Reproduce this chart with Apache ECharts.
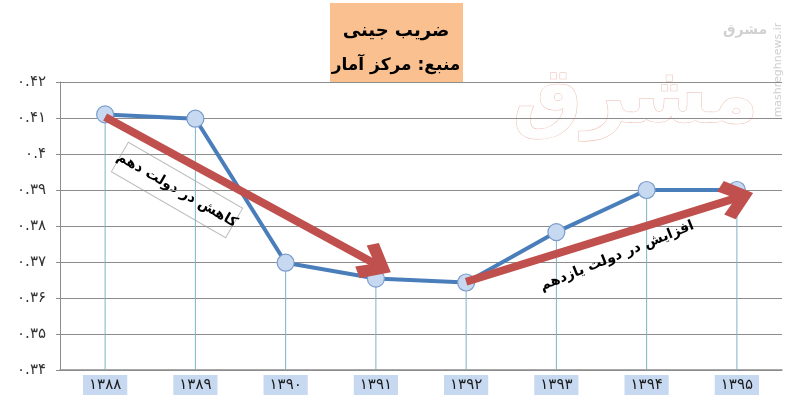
<!DOCTYPE html>
<html>
<head>
<meta charset="utf-8">
<script src="https://cdn.jsdelivr.net/npm/echarts@6/dist/echarts.min.js"></script>
<style>html,body{margin:0;padding:0;background:#fff}#c{width:800px;height:400px}</style>
</head>
<body>
<div id="c"></div>
<script>
const years = ['۱۳۸۸', '۱۳۸۹', '۱۳۹۰', '۱۳۹۱', '۱۳۹۲', '۱۳۹۳', '۱۳۹۴', '۱۳۹۵'];
const gini = [0.411, 0.4098, 0.3698, 0.3654, 0.3643, 0.3783, 0.39, 0.39];
const yMin = 0.34, yMax = 0.42, yStep = 0.01;
const titleLines = ['ضریب جینی', 'منبع: مرکز آمار'];
const downLabel = 'کاهش در دولت دهم';
const upLabel = 'افزایش در دولت یازدهم';
// arrow ends in data space (category index, value); end = centre of arrow head
const downArrow = [[0.03, 0.4103], [2.765, 0.3694]];
const upArrow = [[4.02, 0.3645], [6.76, 0.3878]];

const fa = s => String(s).replace(/[0-9]/g, d => '۰۱۲۳۴۵۶۷۸۹'[d]);
const FONT = 'DejaVu Sans';
const chevron = 'path://M50,0 L100,62 L80,86 L50,46 L20,86 L0,62 Z';

const chart = echarts.init(document.getElementById('c'));
chart.setOption({
  animation: false,
  backgroundColor: '#ffffff',
  grid: { left: 60, right: 18, top: 82, bottom: 30 },
  xAxis: {
    type: 'category',
    data: years,
    boundaryGap: true,
    axisLine: { lineStyle: { color: '#8c8c8c', width: 1.5 } },
    axisTick: { show: false },
    axisLabel: {
      fontFamily: FONT, fontSize: 15, color: '#1a1a1a',
      backgroundColor: '#c6d9f1', padding: [3, 6, 2, 6], margin: 5
    },
    splitLine: { show: false }
  },
  yAxis: {
    type: 'value', min: yMin, max: yMax, interval: yStep,
    axisLine: { show: true, lineStyle: { color: '#8c8c8c' } },
    axisTick: { show: true, length: 4, lineStyle: { color: '#8c8c8c' } },
    axisLabel: {
      fontFamily: FONT, fontSize: 15, color: '#333', margin: 14,
      formatter: v => fa(parseFloat(v.toFixed(2)).toString())
    },
    splitLine: { lineStyle: { color: '#8c8c8c', width: 1 } }
  },
  series: [
    {
      type: 'bar', data: gini, barWidth: 1, z: 1,
      itemStyle: { color: '#7db3c6' }, silent: true
    },
    {
      type: 'line', data: gini, z: 3,
      lineStyle: { color: '#4a7ebb', width: 4 },
      symbol: 'circle', symbolSize: 17,
      itemStyle: { color: '#c6d9f1', borderColor: '#7a9ccc', borderWidth: 1.2 }
    },
    {
      type: 'line', data: [], z: 4,
      markLine: {
        silent: true,
        symbol: ['none', chevron], symbolSize: [40, 34],
        label: { show: false },
        lineStyle: { color: '#c0504d', width: 8, type: 'solid' },
        itemStyle: { color: '#c0504d' },
        data: [
          [{ coord: downArrow[0] }, { coord: downArrow[1] }],
          [{ coord: upArrow[0] }, { coord: upArrow[1] }]
        ]
      }
    }
  ],
  graphic: [
    {
      type: 'text', left: 512, top: 62, z: 0, silent: true,
      style: { text: 'مشرق', font: 'bold 78px "DejaVu Sans"', fill: '#fefefe', stroke: '#edbcb0', lineWidth: 1 }
    },
    {
      type: 'text', x: 778, y: 70, rotation: Math.PI / 2, z: 0,
      style: { text: 'mashreghnews.ir', font: '11px "DejaVu Sans"', fill: '#cfcfcf', align: 'center', verticalAlign: 'middle' }
    },
    {
      type: 'text', x: 745, y: 30, z: 0,
      style: { text: 'مشرق', font: 'bold 14px "DejaVu Sans"', fill: '#d0d0d0', align: 'center', verticalAlign: 'middle' }
    },
    {
      type: 'group', left: 330, top: 3, z: 10,
      children: [
        { type: 'rect', shape: { x: 0, y: 0, width: 133, height: 80 }, style: { fill: '#fac08f' } },
        { type: 'text', x: 66, y: 28, style: { text: titleLines[0], font: 'bold 18px "DejaVu Sans"', fill: '#000', align: 'center', verticalAlign: 'middle' } },
        { type: 'text', x: 66, y: 63, style: { text: titleLines[1], font: 'bold 17px "DejaVu Sans"', fill: '#000', align: 'center', verticalAlign: 'middle' } }
      ]
    },
    {
      type: 'group', x: 177, y: 190, rotation: -30 * Math.PI / 180, z: 9,
      children: [
        { type: 'rect', shape: { x: -66, y: -17, width: 132, height: 34 }, style: { fill: '#fff', stroke: '#bfbfbf', lineWidth: 1 } },
        { type: 'text', x: 0, y: 0, style: { text: downLabel, font: 'bold 14px "DejaVu Sans"', fill: '#000', align: 'center', verticalAlign: 'middle' } }
      ]
    },
    {
      type: 'text', x: 617, y: 256, rotation: 22 * Math.PI / 180, z: 9,
      style: { text: upLabel, font: 'bold 14px "DejaVu Sans"', fill: '#000', align: 'center', verticalAlign: 'middle' }
    }
  ]
});
</script>
</body>
</html>
